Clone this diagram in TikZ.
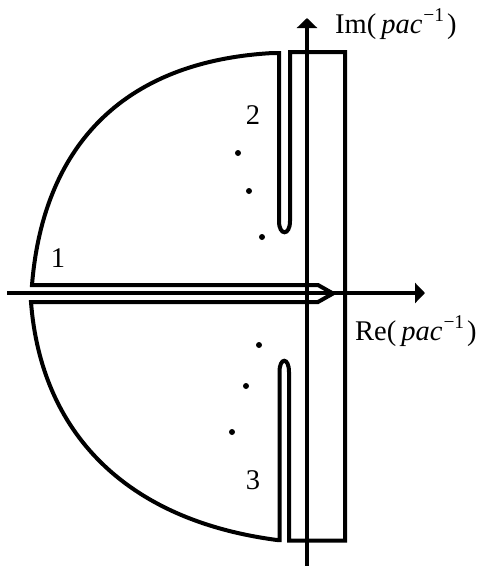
\documentclass[tikz,border=0pt]{standalone}
\usepackage{fontspec}
\setmainfont{Liberation Serif}
\usetikzlibrary{arrows.meta}
\newcommand\supx[1]{\raisebox{12pt}{\fontsize{19.5}{19.5}\selectfont #1}}
\newcommand\axlabel[1]{#1(\hspace{5pt}\textit{pac}\hspace{1pt}\supx{−1}\hspace{3pt})}
\begin{document}
\begin{tikzpicture}[x=1pt,y=-1pt,
  contour/.style={line width=4pt, line join=miter},
  axis/.style={line width=4.5pt, -{Triangle[width=20pt,length=10pt]}},
  lbl/.style={inner sep=0pt, font=\fontsize{28.5}{28.5}\selectfont},
  dotm/.style={circle, fill, inner sep=0pt, minimum size=6pt}]
\useasboundingbox (0,0) rectangle (488,566);
% axes
\coordinate (xs) at (7,293);
\coordinate (xe) at (425,293);
\coordinate (ys) at (307,566);
\coordinate (ye) at (307,18);
\draw[axis] (xs) -- (xe);
\draw[axis] (ys) -- (ye);
% contour
\draw[contour] (32,285) -- (318,285) -- (333,293.5) -- (318,302) -- (31,302)
  .. controls (41,432) and (125,520) .. (277,540)
  -- (279.5,540) -- (279.5,372) .. controls (279.5,357) and (289,357) .. (289,372)
  -- (289,540.5) -- (345,540.5) -- (345,52) -- (290,52) -- (290,221)
  .. controls (290,236) and (279,236) .. (279,221) -- (279,53) -- (273,53)
  .. controls (110,62) and (42,160) .. (32,285)
  -- cycle;
% dots
\node[dotm] (d1) at (238,153) {};
\node[dotm] (d2) at (249,191) {};
\node[dotm] (d3) at (262,237) {};
\node[dotm] (d4) at (259,345) {};
\node[dotm] (d5) at (246,386) {};
\node[dotm] (d6) at (232,432) {};
% labels
\node[lbl] (n1) at (58,258) {1};
\node[lbl] (n2) at (253,115) {2};
\node[lbl] (n3) at (253,480) {3};
\node[lbl, anchor=base west] (im) at (335,33) {\axlabel{Im}};
\node[lbl, anchor=base west] (re) at (355,340) {\axlabel{Re}};
\end{tikzpicture}
\end{document}
